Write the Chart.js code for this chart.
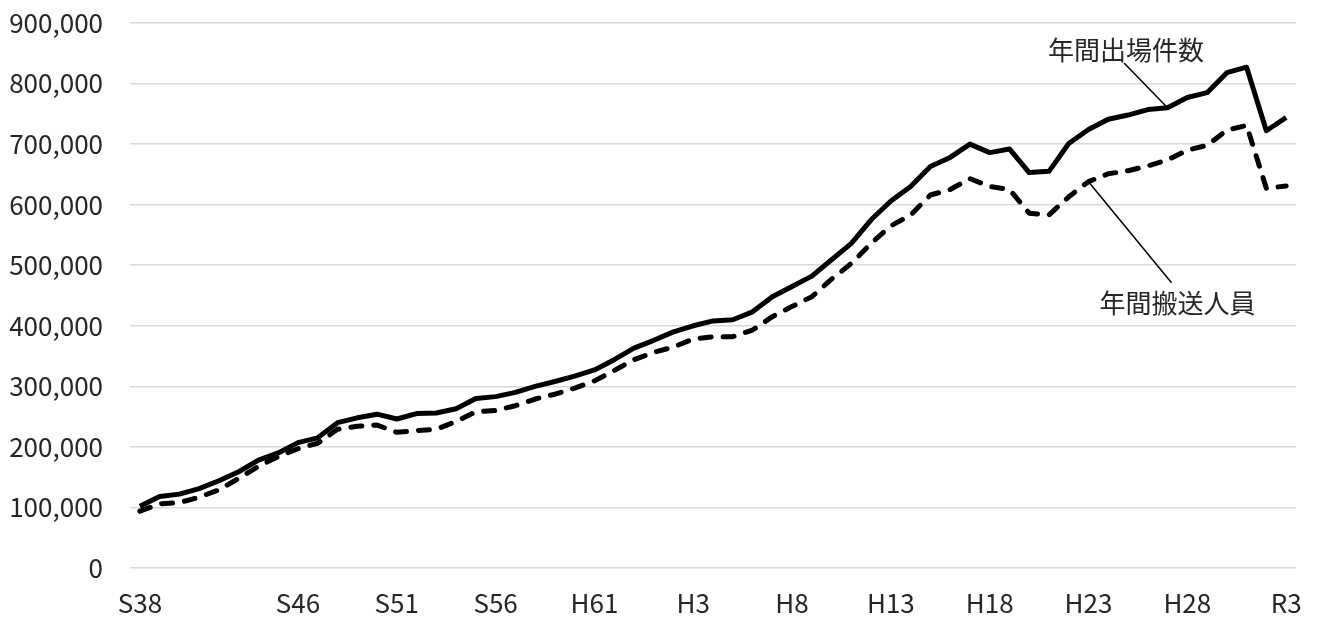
<!DOCTYPE html>
<html lang="ja">
<head>
<meta charset="utf-8">
<title>救急出場件数・搬送人員の推移</title>
<script src="https://cdn.jsdelivr.net/npm/chart.js@4.4.1/dist/chart.umd.min.js"></script>
<style>
  html, body { margin: 0; padding: 0; background: #fff; }
  #wrap { width: 1318px; height: 623px; position: relative; }
</style>
</head>
<body>
<div id="wrap"><canvas id="chart"></canvas></div>
<script>
// 年ごとのカテゴリ (S38 .. R3), 表示するラベルだけ文字を入れる
const categories = [
  'S38', '', '', '', '', '', '', '', 'S46', '', '', '', '', 'S51', '', '', '', '', 'S56', '',
  '', '', '', 'H61', '', '', '', '', 'H3', '', '', '', '', 'H8', '', '', '', '', 'H13', '',
  '', '', '', 'H18', '', '', '', '', 'H23', '', '', '', '', 'H28', '', '', '', '', 'R3'
];

// 年間出場件数
const dispatches = [
  102000, 118000, 122000, 131000, 144000, 159000, 178000, 190000, 207000, 215000,
  240000, 248000, 254000, 246000, 255000, 256000, 263000, 280000, 283000, 290000,
  300000, 308000, 317000, 327000, 344000, 363000, 376000, 390000, 400000, 408000,
  410000, 423000, 448000, 465000, 482000, 509000, 536000, 575000, 606000, 630000,
  663000, 678000, 700000, 686000, 692000, 653000, 655000, 701000, 724000, 741000,
  748000, 757000, 760000, 777000, 785000, 818000, 827000, 722000, 744000
];

// 年間搬送人員
const transported = [
  94000, 106000, 108000, 117000, 129000, 148000, 168000, 184000, 197000, 206000,
  229000, 234000, 236000, 224000, 227000, 229000, 242000, 258000, 260000, 268000,
  279000, 287000, 297000, 309000, 326000, 344000, 356000, 365000, 378000, 382000,
  382000, 393000, 415000, 432000, 448000, 477000, 503000, 536000, 565000, 583000,
  616000, 625000, 643000, 630000, 625000, 586000, 583000, 613000, 638000, 651000,
  656000, 664000, 674000, 690000, 698000, 723000, 731000, 627000, 631000
];

const yTicks = [0, 100000, 200000, 300000, 400000, 500000, 600000, 700000, 800000, 900000];

const FONT = '"Noto Sans CJK JP", "Noto Sans", sans-serif';
const TEXT_COLOR = '#262626';

// 系列名のラベルと引き出し線
const calloutPlugin = {
  id: 'callouts',
  afterDatasetsDraw(chart, args, opts) {
    const { ctx, scales: { x, y } } = chart;
    ctx.save();
    opts.items.forEach(item => {
      const pt = chart.getDatasetMeta(item.dataset).data[item.index];
      const fx = x.getPixelForValue(item.lineFrom[0]);
      const fy = y.getPixelForValue(item.lineFrom[1]);
      ctx.strokeStyle = '#000';
      ctx.lineWidth = 1.5;
      ctx.beginPath();
      ctx.moveTo(fx, fy);
      ctx.lineTo(pt.x, pt.y);
      ctx.stroke();

      ctx.fillStyle = TEXT_COLOR;
      ctx.font = '26px ' + FONT;
      ctx.textAlign = 'center';
      ctx.textBaseline = 'middle';
      ctx.fillText(item.text, x.getPixelForValue(item.textAt[0]), y.getPixelForValue(item.textAt[1]));
    });
    ctx.restore();
  }
};

new Chart(document.getElementById('chart'), {
  type: 'line',
  data: {
    labels: categories,
    datasets: [
      {
        label: '年間出場件数',
        data: dispatches,
        borderColor: '#000',
        borderWidth: 5,
        borderJoinStyle: 'round',
        pointRadius: 0,
        tension: 0
      },
      {
        label: '年間搬送人員',
        data: transported,
        borderColor: '#000',
        borderWidth: 5,
        borderDash: [11, 12],
        borderCapStyle: 'round',
        borderJoinStyle: 'round',
        pointRadius: 0,
        tension: 0
      }
    ]
  },
  options: {
    responsive: true,
    maintainAspectRatio: false,
    animation: false,
    layout: { padding: { top: 23, right: 22, bottom: 0, left: 0 } },
    plugins: {
      legend: { display: false },
      tooltip: { enabled: false },
      callouts: {
        items: [
          { text: '年間出場件数', dataset: 0, index: 52, textAt: [49.9, 855000], lineFrom: [49.8, 834000] },
          { text: '年間搬送人員', dataset: 1, index: 48, textAt: [52.5, 437000], lineFrom: [52.2, 471000] }
        ]
      }
    },
    scales: {
      x: {
        offset: true,
        grid: { display: false, drawTicks: false },
        border: { display: false },
        ticks: {
          autoSkip: false,
          maxRotation: 0,
          padding: 20,
          color: TEXT_COLOR,
          font: { family: FONT, size: 26 }
        },
        afterFit(scale) {
          scale.height = 55;
          scale.paddingLeft = 0;
          scale.paddingRight = 0;
        }
      },
      y: {
        min: 0,
        max: 900000,
        afterBuildTicks(scale) { scale.ticks = yTicks.map(v => ({ value: v })); },
        grid: { color: '#d9d9d9', lineWidth: 1.5, drawTicks: false },
        border: { display: false },
        ticks: {
          padding: 27,
          color: TEXT_COLOR,
          font: { family: FONT, size: 26 },
          callback: v => v.toLocaleString('en-US')
        },
        afterFit(scale) {
          scale.width = 130;
          scale.paddingTop = 0;
          scale.paddingBottom = 0;
        }
      }
    }
  },
  plugins: [calloutPlugin]
});
</script>
</body>
</html>
